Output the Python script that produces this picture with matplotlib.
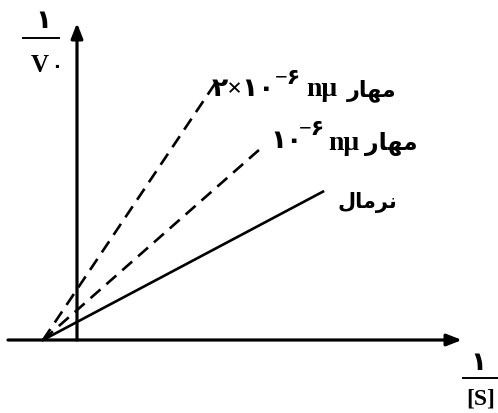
import matplotlib.pyplot as plt

# Lineweaver-Burk plot: 1/V0 against 1/[S], normal enzyme and two inhibitor levels
x_intercept = -3.4          # all three lines meet on the x axis here
slopes = [0.53, 0.88, 1.49]  # normal, 10^-6 nM, 2x10^-6 nM
x_ends = [24.6, 18.6, 13.8]
line_styles = ['-', '--', '--']

fam = ['Liberation Serif', 'DejaVu Sans']

fig = plt.figure(figsize=(4.98, 4.13), dpi=100)
ax = fig.add_axes([0, 0, 1, 1])
ax.set_xlim(-7.7, 42.1)
ax.set_ylim(-7.3, 34.0)
ax.axis('off')

# lines
for s, xe, ls in zip(slopes, x_ends, line_styles):
    xs = [x_intercept, xe]
    ys = [s * (x - x_intercept) for x in xs]
    if ls == '--':
        ax.plot(xs, ys, color='black', lw=1.9, dashes=(5, 3), solid_capstyle='butt')
    else:
        ax.plot(xs, ys, color='black', lw=1.9)

# axes with arrows
arr = dict(arrowstyle='-|>,head_length=0.9,head_width=0.35', lw=2.3, color='black',
           shrinkA=0, shrinkB=0)
ax.annotate('', xy=(38.5, 0), xytext=(-6.9, 0), arrowprops=arr)
ax.annotate('', xy=(0, 31.7), xytext=(0, 0), arrowprops=arr)

# axis labels (fractions)
ax.text(-3.4, 30.7, '\u06f1', family=fam, weight='bold', fontsize=19, ha='center', va='bottom')
ax.plot([-5.4, -1.8], [30.2, 30.2], color='black', lw=1.4)
ax.text(-3.7, 26.8, 'V', family=fam, weight='bold', fontsize=18, ha='center', va='baseline')
ax.text(-2.55, 26.75, '\u06f0', family=fam, weight='bold', fontsize=13, ha='left', va='baseline')

ax.text(40.1, -3.5, '\u06f1', family=fam, weight='bold', fontsize=19, ha='center', va='bottom')
ax.plot([38.6, 42.1], [-3.8, -3.8], color='black', lw=1.4)
ax.text(40.4, -6.4, '[S]', family=fam, weight='bold', fontsize=17, ha='center', va='baseline')

mahar = '\ufead\ufe8e\ufeec\ufee3'          # مهار
normal = '\ufedd\ufe8e\ufee3\ufeae\ufee7'    # نرمال

def to_data(px, py):
    return (px - 77) / 10, (340 - py) / 10

kw = dict(family=fam, weight='bold', va='baseline', ha='left')

# label: 2x10^-6 nM
ax.text(*to_data(212, 96), '\u06f2\u00d7\u06f1\u06f0', fontsize=19, **kw)
ax.text(*to_data(275, 84), '\u2212\u06f6', fontsize=16, **kw)
ax.text(*to_data(306, 96), 'n\u03bc', fontsize=20, **kw)
ax.text(*to_data(347, 96), mahar, fontsize=16, **kw)

# label: 10^-6 nM
ax.text(*to_data(270, 148), '\u06f1\u06f0', fontsize=19, **kw)
ax.text(*to_data(299, 135), '\u2212\u06f6', fontsize=16, **kw)
ax.text(*to_data(328, 150), 'n\u03bc', fontsize=20, **kw)
ax.text(*to_data(365, 150), mahar, fontsize=17, **kw)

# label: normal
ax.text(*to_data(337, 208), normal, fontsize=15, **kw)

fig.savefig('out.png', dpi=100)
